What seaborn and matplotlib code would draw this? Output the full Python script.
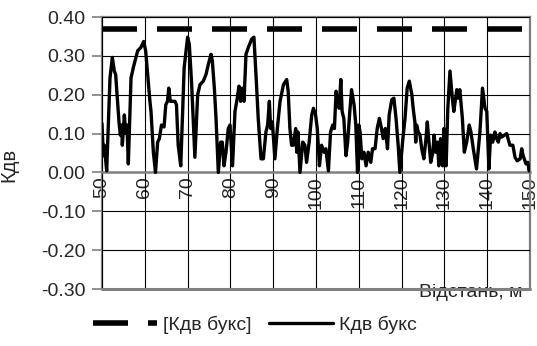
import pandas as pd
import matplotlib.pyplot as plt
import matplotlib.ticker as mticker
import seaborn as sns

# 1. DATA
# distance along the track, m
distance = [50.0, 50.31, 50.54, 51.09, 51.87, 52.41, 52.88, 53.19, 53.97, 54.28, 54.6, 54.75,
            55.22, 55.53, 55.84, 56.15, 56.78, 57.32, 58.33, 59.11, 59.74, 60.2, 61.2, 61.45,
            62.0, 62.5, 63.0, 63.4, 63.9, 64.5, 64.9, 65.3, 65.6, 65.96, 67.05, 67.4, 67.8,
            68.4, 69.2, 70.0, 70.4, 70.95, 71.7, 72.35, 72.9, 73.67, 74.3, 74.84, 75.47, 75.78,
            76.25, 76.64, 77.18, 77.73, 78.1, 78.5, 78.97, 79.5, 79.9, 80.5, 81.07, 81.6, 82.0,
            82.4, 82.8, 83.18, 83.64, 84.2, 84.97, 85.5, 86.1, 86.5, 87.15, 87.7, 88.3, 88.7,
            89.1, 89.4, 89.8, 90.4, 90.97, 91.6, 92.4, 93.15, 93.5, 93.9, 94.3, 94.7, 95.25,
            95.5, 95.8, 96.26, 96.9, 97.4, 97.8, 98.4, 99.0, 99.4, 99.9, 100.3, 100.8, 101.3,
            101.9, 102.3, 102.9, 103.4, 103.9, 104.3, 104.7, 105.0, 105.4, 105.8, 106.1, 106.5,
            107.0, 107.4, 107.9, 108.3, 108.9, 109.3, 109.7, 110.0, 110.3, 110.7, 111.2, 111.7,
            112.2, 112.8, 113.2, 113.8, 114.3, 114.8, 115.3, 115.7, 116.2, 116.7, 117.1, 117.7,
            118.2, 118.7, 119.2, 119.6, 120.3, 120.8, 121.3, 121.8, 122.4, 122.7, 123.1, 123.3,
            123.5, 123.9, 124.3, 124.7, 125.2, 125.7, 126.0, 126.4, 126.8, 127.3, 127.6, 128.0,
            128.4, 128.7, 129.1, 129.6, 129.9, 130.1, 130.4, 130.8, 131.3, 131.85, 132.2, 132.9,
            133.25, 133.6, 134.2, 134.65, 135.2, 135.8, 136.2, 136.75, 137.5, 138.3, 138.9,
            139.5, 139.9, 140.4, 140.8, 141.3, 141.8, 142.2, 142.6, 143.0, 143.4, 144.55, 145.3,
            146.0, 146.5, 147.0, 147.7, 148.06, 148.4, 149.07, 149.5, 149.8, 150.0]
# measured coefficient Кдв букс
kdv = [0.126, 0.043, 0.07, 0.004, 0.243, 0.296, 0.261, 0.252, 0.13, 0.096, 0.122, 0.07,
       0.148, 0.104, 0.122, 0.022, 0.243, 0.27, 0.313, 0.322, 0.337, 0.313, 0.183, 0.157,
       0.052, 0.0, 0.078, 0.087, 0.122, 0.117, 0.174, 0.183, 0.217, 0.183, 0.183, 0.174, 0.07,
       0.017, 0.27, 0.348, 0.33, 0.226, 0.039, 0.2, 0.226, 0.235, 0.252, 0.278, 0.304, 0.287,
       0.217, 0.139, 0.0, 0.078, 0.078, 0.017, 0.052, 0.113, 0.122, 0.017, 0.157, 0.191, 0.222,
       0.183, 0.217, 0.183, 0.304, 0.322, 0.343, 0.348, 0.226, 0.139, 0.035, 0.035, 0.104, 0.122,
       0.183, 0.113, 0.13, 0.035, 0.113, 0.183, 0.226, 0.239, 0.209, 0.113, 0.07, 0.07, 0.113,
       0.052, 0.104, 0.0, 0.078, 0.07, 0.026, 0.078, 0.148, 0.165, 0.148, 0.113, 0.017, 0.07,
       0.052, 0.061, 0.004, 0.104, 0.122, 0.113, 0.209, 0.183, 0.165, 0.239, 0.157, 0.139,
       0.043, 0.078, 0.157, 0.213, 0.174, 0.122, 0.0, 0.122, 0.104, 0.035, 0.052, 0.017,
       0.052, 0.026, 0.061, 0.061, 0.113, 0.139, 0.113, 0.087, 0.113, 0.061, 0.148, 0.187,
       0.191, 0.139, 0.07, 0.0, 0.087, 0.139, 0.217, 0.235, 0.2, 0.165, 0.13, 0.078,
       0.122, 0.104, 0.096, 0.061, 0.035, 0.087, 0.13, 0.078, 0.026, 0.052, 0.096, 0.052,
       0.078, 0.017, 0.087, 0.017, 0.113, 0.07, 0.017, 0.165, 0.261, 0.191, 0.157, 0.213,
       0.191, 0.213, 0.139, 0.052, 0.078, 0.122, 0.104, 0.061, 0.009, 0.104, 0.217,
       0.165, 0.157, 0.009, 0.096, 0.078, 0.104, 0.087, 0.078, 0.1, 0.091, 0.1, 0.07,
       0.07, 0.039, 0.03, 0.035, 0.061, 0.043, 0.022, 0.026, 0.004, 0.01]
# permissible limit [Кдв букс]
limit_distance = [50, 150]
limit_value = [0.37, 0.37]

x_ticks = list(range(50, 151, 10))
y_ticks = [-0.3, -0.2, -0.1, 0.0, 0.1, 0.2, 0.3, 0.4]

df = pd.DataFrame({'distance': distance, 'kdv': kdv})
df_limit = pd.DataFrame({'distance': limit_distance, 'kdv': limit_value})

# 2. STYLE
sns.set_style('white')
plt.rcParams['font.family'] = ['Liberation Sans', 'DejaVu Sans']
plt.rcParams['axes.unicode_minus'] = False
FS = 14

# 3. PLOT
fig = plt.figure(figsize=(5.37, 3.46), dpi=100)
ax = fig.add_axes([102 / 537, 1 - 289 / 346, 428 / 537, 272 / 346])

# gridlines at the tick positions, kept just under the data lines
for xt in x_ticks:
    ax.axvline(xt, color='black', lw=0.8, zorder=2.9)
for yt in y_ticks:
    if yt != 0.0:
        ax.axhline(yt, color='black', lw=0.8, zorder=2.9)

sns.lineplot(data=df_limit, x='distance', y='kdv', ax=ax, color='black', lw=4,
             dashes=False, label='[Кдв букс]', zorder=3.1).lines[-1].set_dashes((6.3, 3.6))
sns.lineplot(data=df, x='distance', y='kdv', ax=ax, color='black', lw=2.4,
             label='Кдв букс', zorder=3.2)

ax.set_xlim(50, 150)
ax.set_ylim(-0.3, 0.4)
ax.set_xticks(x_ticks)
ax.set_yticks(y_ticks)
ax.yaxis.set_major_formatter(mticker.FormatStrFormatter('%.2f'))

# frame of the plot area, x axis crossing at zero
for side in ['left', 'right', 'top']:
    ax.spines[side].set_edgecolor('#808080')
    ax.spines[side].set_linewidth(1.6)
ax.spines['bottom'].set_position(('data', 0))
ax.spines['bottom'].set_edgecolor('#808080')
ax.spines['bottom'].set_linewidth(1.8)
ax.spines['bottom'].set_zorder(3.0)
ax.axhline(-0.3, color='#808080', lw=2.2, clip_on=False, zorder=3)

ax.tick_params(axis='y', direction='out', length=7, width=1.2, color='#808080',
               pad=5, labelsize=FS, left=True)
ax.tick_params(axis='x', length=0, pad=3, labelsize=FS, labelrotation=90)
for lbl in ax.get_xticklabels():
    lbl.set_va('top')

ax.set_ylabel('Кдв', fontsize=FS + 0.5)
ax.yaxis.set_label_coords(-0.196, 0.456)
ax.set_xlabel('Відстань, м', fontsize=FS, ha='right', va='center')
ax.xaxis.set_label_coords(0.982, -0.012)

ax.legend(loc='center', bbox_to_anchor=(0.475, 0.061), bbox_transform=fig.transFigure,
          ncol=2, frameon=False, fontsize=FS, handlelength=3.3, columnspacing=0.9,
          handletextpad=0.3)

plt.savefig('out.png', dpi=100)
